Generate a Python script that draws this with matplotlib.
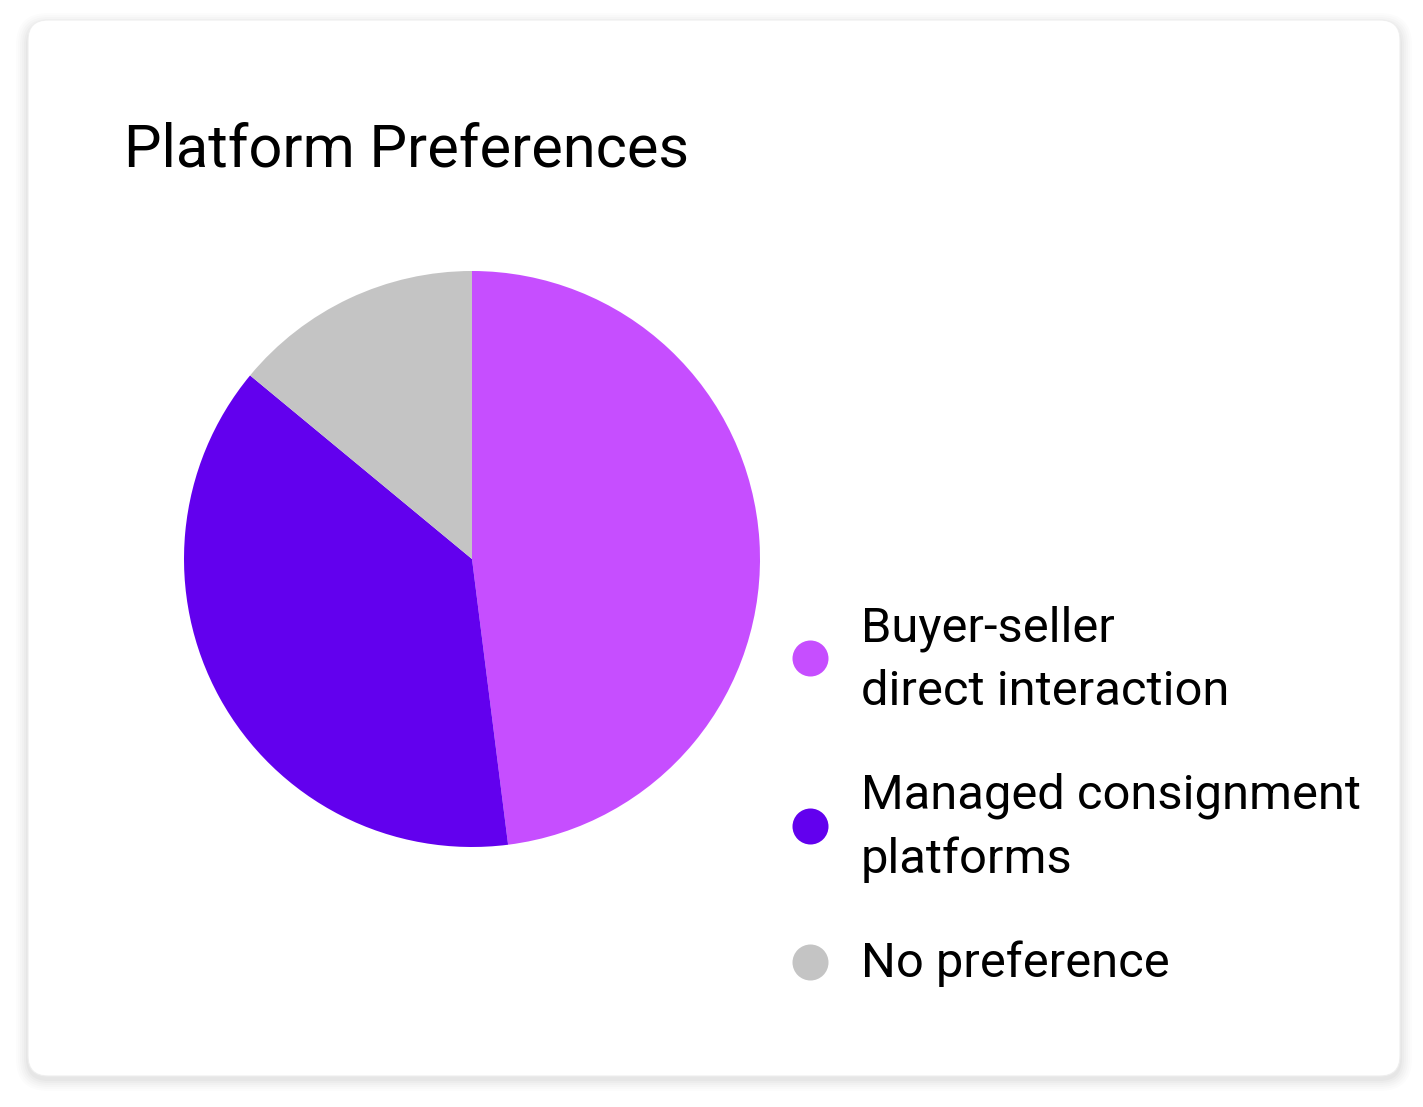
import matplotlib
matplotlib.use("Agg")
import matplotlib.pyplot as plt
from matplotlib.patches import FancyBboxPatch

plt.rcParams['font.family'] = ['Roboto', 'DejaVu Sans']

title = "Platform Preferences"
categories = ["Buyer-seller\ndirect interaction", "Managed consignment\nplatforms", "No preference"]
values = [48, 38, 14]
colors = ["#C64EFF", "#6200EE", "#C4C4C4"]

W, H = 1423, 1107
fig = plt.figure(figsize=(W / 100, H / 100), dpi=100)
fig.patch.set_facecolor("white")

# background / card layer in pixel coordinates
bg = fig.add_axes([0, 0, 1, 1])
bg.set_xlim(0, W)
bg.set_ylim(H, 0)
bg.axis("off")
for i, a in enumerate([0.012, 0.012, 0.014, 0.016, 0.02, 0.025]):
    g = 12 - 2 * i
    bg.add_patch(FancyBboxPatch((28 - g, 22 - g + 3), 1372 + 2 * g, 1054 + 2 * g,
                                boxstyle="round,pad=0,rounding_size=%d" % (20 + g),
                                fc="black", ec="none", alpha=a))
bg.add_patch(FancyBboxPatch((28, 20), 1372, 1056, boxstyle="round,pad=0,rounding_size=20",
                            fc="white", ec="#eeeeee", lw=0.8))

bg.text(124, 150, title, fontsize=42.8, color="#000000", va="center", ha="left")

# pie
cx, cy, r = 472, 559, 288
ax = fig.add_axes([(cx - r) / W, (H - cy - r) / H, 2 * r / W, 2 * r / H])
ax.pie(values, colors=colors, startangle=90, counterclock=False, radius=1,
       wedgeprops=dict(linewidth=0))
ax.set_xlim(-1, 1)
ax.set_ylim(-1, 1)
ax.set_aspect("equal")
ax.axis("off")

# legend
leg_y = [658, 826, 962]
for lab, col, y in zip(categories, colors, leg_y):
    bg.scatter([810], [y], s=(36 * 0.72) ** 2, color=col, linewidths=0)
    bg.text(861, y + 2, lab, fontsize=35.2, color="#000000", va="center", ha="left",
            linespacing=1.47)

fig.savefig("out.png", dpi=100, facecolor="white")
